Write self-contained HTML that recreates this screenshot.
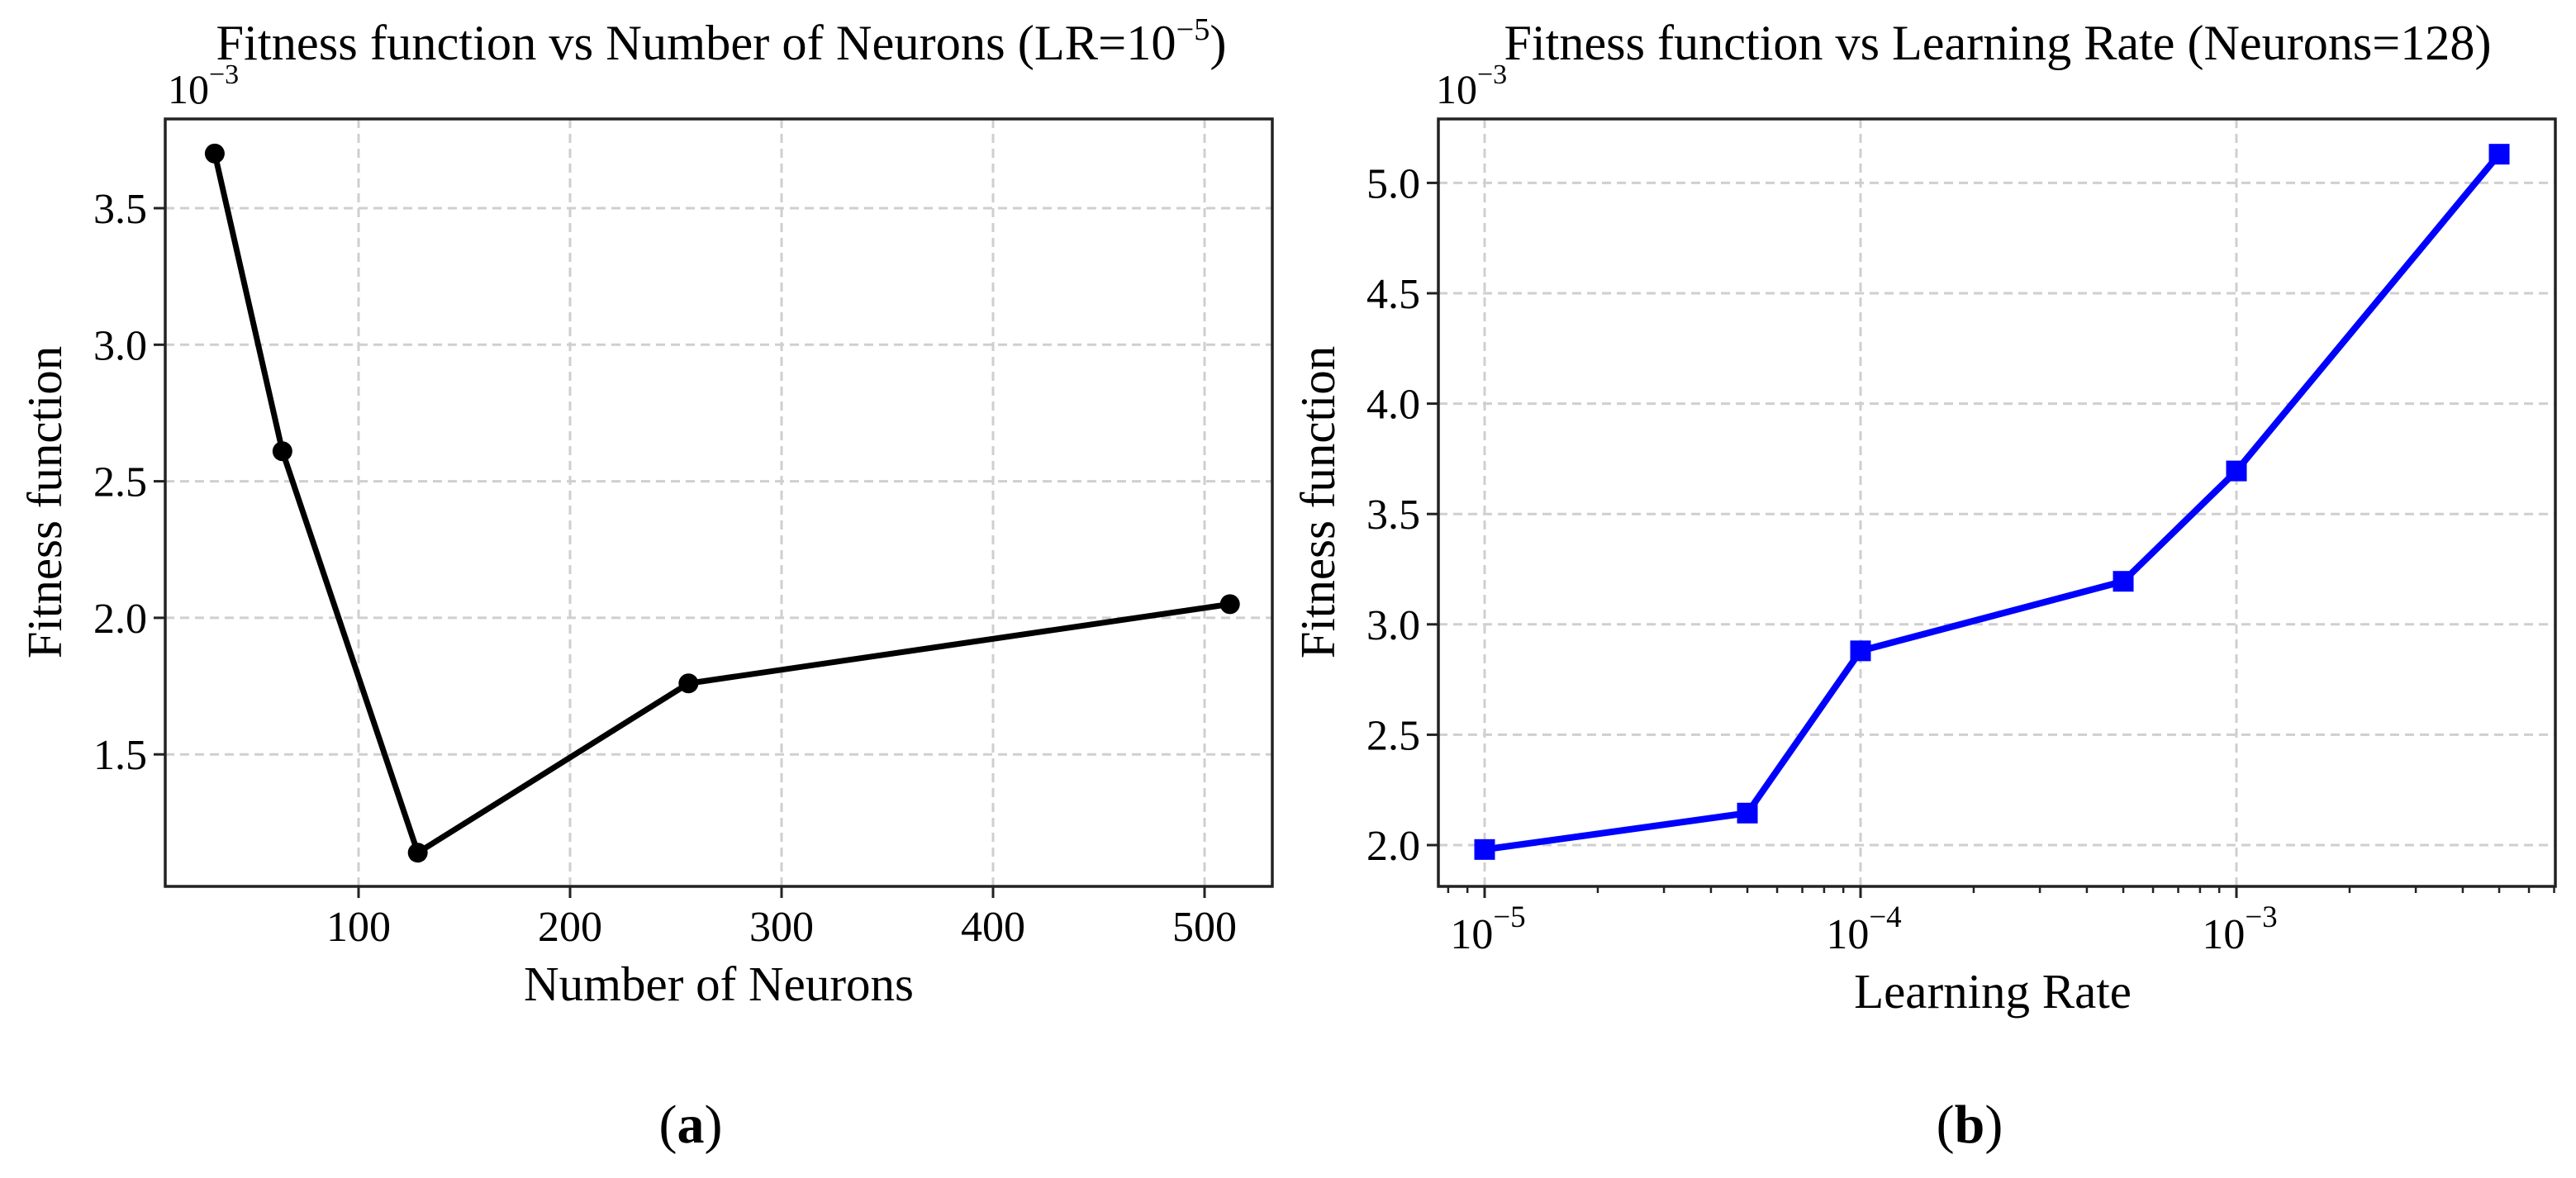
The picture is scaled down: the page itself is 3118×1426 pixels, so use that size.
<!DOCTYPE html>
<html><head><meta charset="utf-8"><style>
html,body{margin:0;padding:0;background:#fff;}
svg{display:block;font-family:"Liberation Serif","DejaVu Serif",serif;}
</style></head><body>
<svg id="fig" width="3118" height="1426" viewBox="0 0 3118 1426" xmlns="http://www.w3.org/2000/svg">
<g id="pa"></g>
<g id="pb"></g>
</svg>
<script>
// Panel (a)
const neurons = [32, 64, 128, 256, 512];
const fitnessA = [3.70, 2.61, 1.14, 1.76, 2.05];
const xTicksA = [100, 200, 300, 400, 500];
const yTicksA = [1.5, 2.0, 2.5, 3.0, 3.5];
// Panel (b)
const lrExp = [-5, Math.log10(5e-5), -4, Math.log10(5e-4), -3, Math.log10(5e-3)];
const fitnessB = [1.98, 2.145, 2.88, 3.195, 3.695, 5.13];
const xTicksB = [-5, -4, -3];
const yTicksB = [2.0, 2.5, 3.0, 3.5, 4.0, 4.5, 5.0];

const NS = "http://www.w3.org/2000/svg";
function mk(parent, tag, attrs, text){
  const e = document.createElementNS(NS, tag);
  for (const k in attrs) e.setAttribute(k, attrs[k]);
  if (text !== undefined) e.textContent = text;
  parent.appendChild(e);
  return e;
}
const T = 144, B = 1073;

// ---------- Panel A ----------
(function(){
  const g = document.getElementById('pa');
  const L = 200, R = 1540;
  const xs = v => 178 + (v) * 2.56;
  const ys = v => 252 + (3.5 - v) * 330.6;
  yTicksA.forEach(v=>{
    const y = ys(v);
    const gl = mk(g,'line',{x1:L,x2:R,y1:y,y2:y,stroke:'#cfcfcf','stroke-width':3,'stroke-dasharray':'11 7'});
    
    
    mk(g,'line',{x1:L-14,x2:L,y1:y,y2:y,stroke:'#222','stroke-width':3});
    const t = mk(g,'text',{x:L-22,y:y+18,'font-size':52,'text-anchor':'end'}, v.toFixed(1));
    
    
  });
  xTicksA.forEach(v=>{
    const x = xs(v);
    const gl = mk(g,'line',{x1:x,x2:x,y1:T,y2:B,stroke:'#cfcfcf','stroke-width':3,'stroke-dasharray':'11 7'});
    
    
    mk(g,'line',{x1:x,x2:x,y1:B,y2:B+14,stroke:'#222','stroke-width':3});
    const t = mk(g,'text',{x:x,y:1139,'font-size':52,'text-anchor':'middle'}, String(v));
    
    
  });
  const pts = neurons.map((n,i)=>xs(n)+','+ys(fitnessA[i])).join(' ');
  const line = mk(g,'polyline',{points:pts,fill:'none',stroke:'#000','stroke-width':7,'stroke-linejoin':'round'});
  
  
  neurons.forEach((n,i)=>{
    const c = mk(g,'circle',{cx:xs(n),cy:ys(fitnessA[i]),r:12,fill:'#000'});
    
    
  });
  const box = mk(g,'rect',{x:L,y:T,width:R-L,height:B-T,fill:'none',stroke:'#222','stroke-width':3.5});
  
  
  const off = mk(g,'text',{x:203,y:125,'font-size':50});
  
  
  off.innerHTML = '10<tspan dy="-24" font-size="34">−3</tspan>';
  const tt = mk(g,'text',{x:873,y:72,'font-size':60,'text-anchor':'middle',textLength:1223,lengthAdjust:'spacingAndGlyphs'});
  
  
  tt.innerHTML = 'Fitness function vs Number of Neurons (LR=10<tspan dy="-24" font-size="38">−5</tspan><tspan dy="24">)</tspan>';
  const xl = mk(g,'text',{x:870,y:1211,'font-size':59,'text-anchor':'middle'},'Number of Neurons');
  
  
  const yl = mk(g,'text',{x:0,y:0,'font-size':59,'text-anchor':'middle',transform:'translate(74,608) rotate(-90)'},'Fitness function');
  
  
  const cap = mk(g,'text',{x:836,y:1383,'font-size':66,'text-anchor':'middle'});
  
  
  cap.innerHTML = '(<tspan font-weight="bold">a</tspan>)';
})();

// ---------- Panel B ----------
(function(){
  const g = document.getElementById('pb');
  const L = 1741, R = 3093;
  const xs = e => 2707 + (e + 3) * 455;
  const ys = v => 1023 - (v - 2.0) * 267.2;
  yTicksB.forEach(v=>{
    const y = ys(v);
    const gl = mk(g,'line',{x1:L,x2:R,y1:y,y2:y,stroke:'#cfcfcf','stroke-width':3,'stroke-dasharray':'11 7'});
    
    
    mk(g,'line',{x1:L-14,x2:L,y1:y,y2:y,stroke:'#222','stroke-width':3});
    const t = mk(g,'text',{x:L-22,y:y+18,'font-size':52,'text-anchor':'end'}, v.toFixed(1));
    
    
  });
  for (let d=-6; d<=-2; d++){
    for (let m=2; m<=9; m++){
      const x = xs(d + Math.log10(m));
      if (x < L || x > R) continue;
      mk(g,'line',{x1:x,x2:x,y1:B,y2:B+8,stroke:'#222','stroke-width':2.5});
    }
  }
  xTicksB.forEach(e=>{
    const x = xs(e);
    const gl = mk(g,'line',{x1:x,x2:x,y1:T,y2:B,stroke:'#cfcfcf','stroke-width':3,'stroke-dasharray':'11 7'});
    
    
    mk(g,'line',{x1:x,x2:x,y1:B,y2:B+14,stroke:'#222','stroke-width':3});
    const t = mk(g,'text',{x:x+4,y:1148,'font-size':52,'text-anchor':'middle'});
    
    
    t.innerHTML = '10<tspan dy="-26" font-size="37">−' + (-e) + '</tspan>';
  });
  const pts = lrExp.map((e,i)=>xs(e)+','+ys(fitnessB[i])).join(' ');
  const line = mk(g,'polyline',{points:pts,fill:'none',stroke:'#0000ff','stroke-width':8,'stroke-linejoin':'round'});
  
  
  lrExp.forEach((e,i)=>{
    const s = mk(g,'rect',{x:xs(e)-12.5,y:ys(fitnessB[i])-12.5,width:25,height:25,fill:'#0000ff'});
    
    
  });
  const box = mk(g,'rect',{x:L,y:T,width:R-L,height:B-T,fill:'none',stroke:'#222','stroke-width':3.5});
  
  
  const off = mk(g,'text',{x:1738,y:125,'font-size':50});
  
  
  off.innerHTML = '10<tspan dy="-24" font-size="34">−3</tspan>';
  const tt = mk(g,'text',{x:2418,y:72,'font-size':60,'text-anchor':'middle',textLength:1195,lengthAdjust:'spacingAndGlyphs'},'Fitness function vs Learning Rate (Neurons=128)');
  
  
  const xl = mk(g,'text',{x:2412,y:1220,'font-size':59,'text-anchor':'middle'},'Learning Rate');
  
  
  const yl = mk(g,'text',{x:0,y:0,'font-size':59,'text-anchor':'middle',transform:'translate(1615,608) rotate(-90)'},'Fitness function');
  
  
  const cap = mk(g,'text',{x:2384,y:1383,'font-size':66,'text-anchor':'middle'});
  
  
  cap.innerHTML = '(<tspan font-weight="bold">b</tspan>)';
})();
</script>
</body></html>
